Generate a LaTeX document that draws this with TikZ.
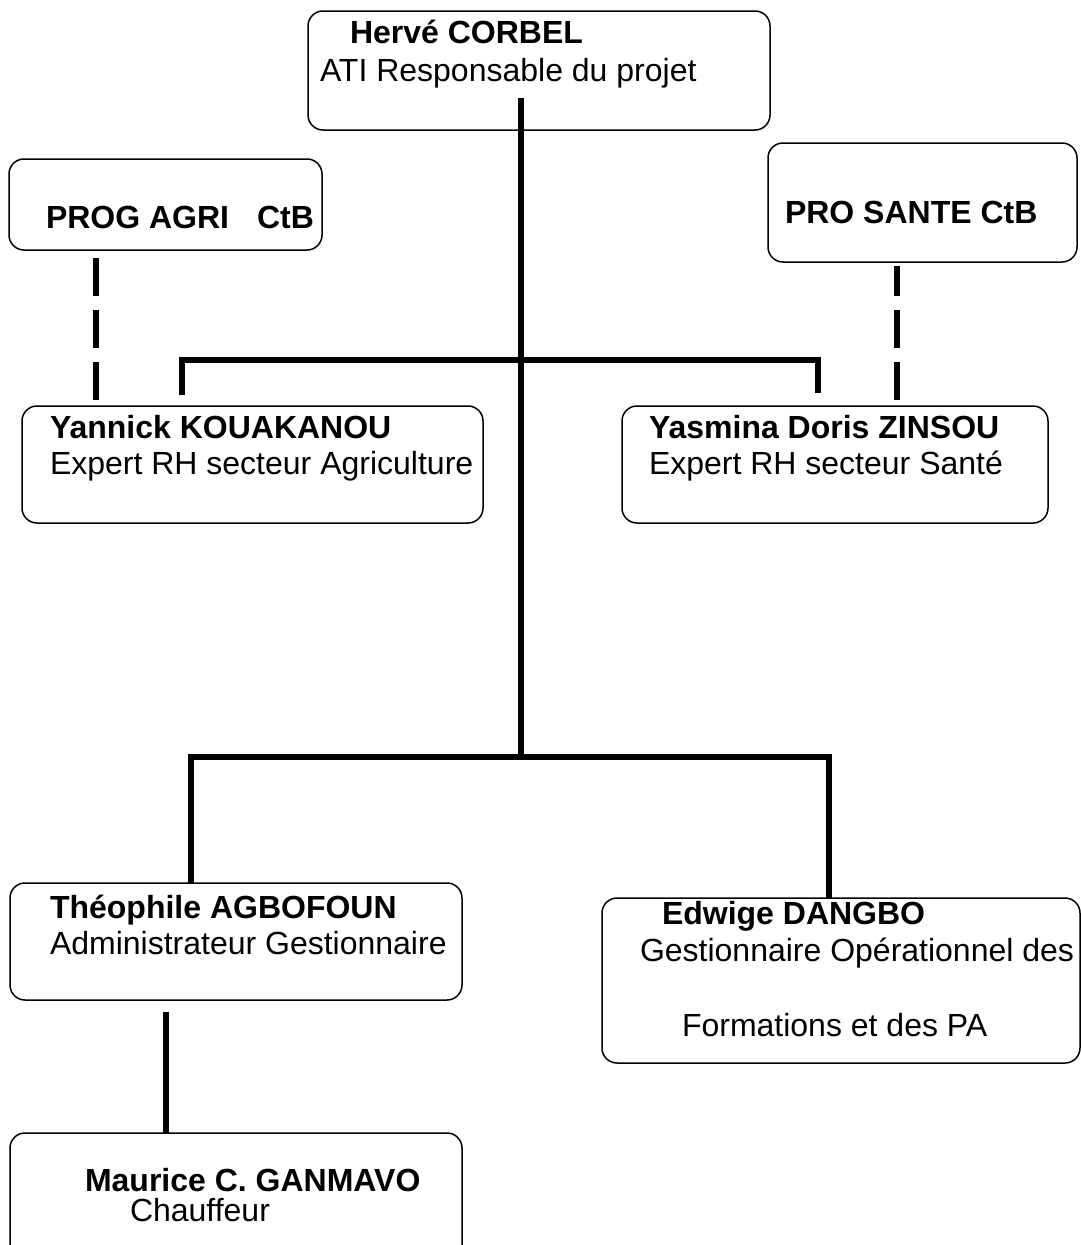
\documentclass[tikz,border=0pt]{standalone}
\usepackage{fontspec}
\setmainfont{Liberation Sans}
\begin{document}
\begin{tikzpicture}[x=1pt,y=-1pt,
  obox/.style={draw=black, line width=1.5pt, rounded corners=15pt, anchor=north west, inner sep=0pt, outer sep=0pt},
  txt/.style={anchor=base west, inner sep=0pt, outer sep=0pt, font=\fontsize{32}{37}\selectfont},
  btxt/.style={txt, font=\fontsize{32}{37}\selectfont\bfseries},
  conn/.style={line width=6pt, line cap=butt, line join=miter},
  dconn/.style={conn, dash pattern=on 38pt off 14pt}]
\useasboundingbox (0,0) rectangle (1081,1245);
\fill[white] (0,0) rectangle (1081,1245);
\clip (0,0) rectangle (1081,1245);

% boxes
\node[obox, minimum width=462pt, minimum height=119pt] (top) at (308,11) {};
\node[obox, minimum width=313pt, minimum height=91pt] (agri) at (9,159) {};
\node[obox, minimum width=309pt, minimum height=119pt] (sante) at (768,143) {};
\node[obox, minimum width=461pt, minimum height=117pt] (yan) at (22,406) {};
\node[obox, minimum width=426pt, minimum height=117pt] (yas) at (622,406) {};
\node[obox, minimum width=452pt, minimum height=117pt] (theo) at (10,883) {};
\node[obox, minimum width=478pt, minimum height=165pt] (edw) at (602,898) {};
\node[obox, minimum width=452pt, minimum height=130pt] (mau) at (10,1133) {};

% texts
\node[btxt] (t1) at (350,43) {Hervé CORBEL};
\node[txt]  (t2) at (320,81) {ATI Responsable du projet};
\node[btxt] (t3) at (46,228) {PROG AGRI\hspace{28pt}CtB};
\node[btxt] (t4) at (785,223) {PRO SANTE CtB};
\node[btxt] (t5) at (50,438) {Yannick KOUAKANOU};
\node[txt]  (t6) at (50,474) {Expert RH secteur Agriculture};
\node[btxt] (t7) at (649,438) {Yasmina Doris ZINSOU};
\node[txt]  (t8) at (649,474) {Expert RH secteur Santé};
\node[btxt] (t9) at (50,918) {Théophile AGBOFOUN};
\node[txt]  (t10) at (50,954) {Administrateur Gestionnaire};
\node[btxt] (t11) at (662,924) {Edwige DANGBO};
\node[txt]  (t12) at (640,961) {Gestionnaire Opérationnel des};
\node[txt]  (t13) at (682,1036) {Formations et des PA};
\node[btxt] (t14) at (85,1191) {Maurice C. GANMAVO};
\node[txt]  (t15) at (130,1221) {Chauffeur};

% connector points
\coordinate (ts) at (521,98);
\coordinate (j1) at (521,360);
\coordinate (j2) at (521,757);
\coordinate (ya) at (182,395);
\coordinate (yb) at (818,393);
\coordinate (ta) at (191,883);
\coordinate (ea) at (829,898);
\coordinate (ts2) at (166,1012);
\coordinate (ma) at (166,1133);
\coordinate (ag) at (96,258);
\coordinate (yan1) at (96,405);
\coordinate (sa) at (897,266);
\coordinate (yas1) at (897,405);

% connectors
\draw[conn] (ts) -- (j2);
\draw[conn] (ya) |- (j1) -| (yb);
\draw[conn] (ta) |- (j2) -| (ea);
\draw[conn] (ts2) -- (ma);
\draw[dconn] (ag) -- (yan1);
\draw[dconn, dash phase=8pt] (sa) -- (yas1);
\end{tikzpicture}
\end{document}
